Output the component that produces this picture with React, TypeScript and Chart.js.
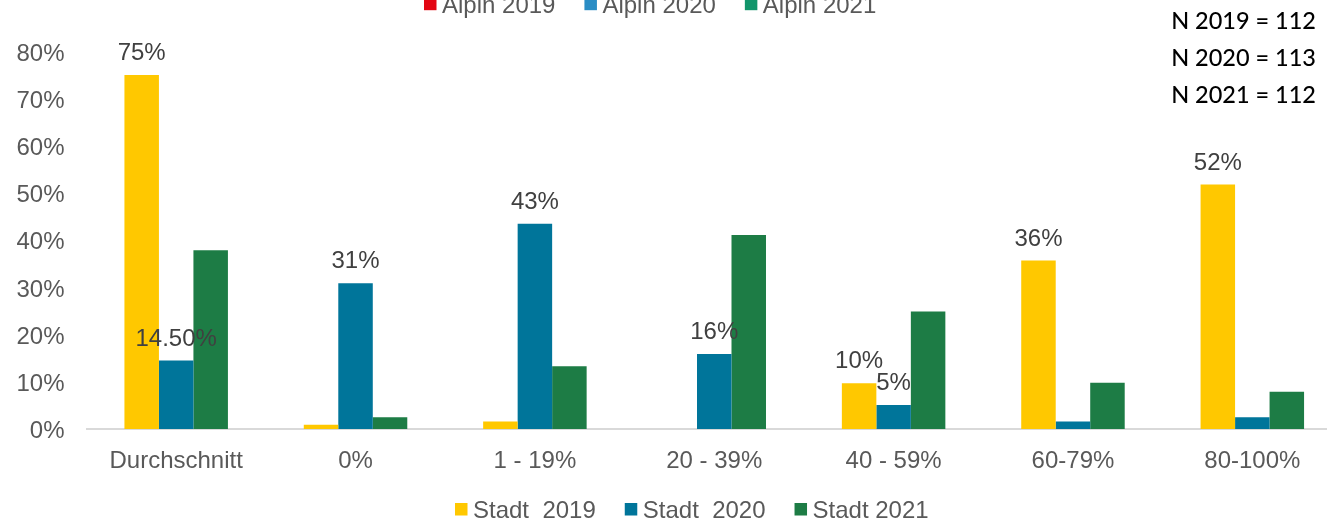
import React, { useEffect, useRef } from "react";
import { Chart, registerables } from "chart.js";

Chart.register(...registerables);

const categories = ["Durchschnitt", "0%", "1 - 19%", "20 - 39%", "40 - 59%", "60-79%", "80-100%"];

const stadt2019 = [75, 0.9, 1.6, 0, 9.7, 35.7, 51.8];
const stadt2020 = [14.5, 30.9, 43.5, 15.9, 5.1, 1.6, 2.5];
const stadt2021 = [37.9, 2.5, 13.3, 41.1, 24.9, 9.8, 7.9];

const labels2019: (string | null)[] = ["75%", null, null, null, "10%", "36%", "52%"];
const labels2020: (string | null)[] = ["14.50%", "31%", "43%", "16%", "5%", null, null];
const labels2021: (string | null)[] = [null, null, null, null, null, null, null];

const seriesNames = ["Stadt  2019", "Stadt  2020", "Stadt 2021"];
const seriesColors = ["#FFC800", "#00759A", "#1D7C45"];

const alpinNames = ["Alpin 2019", "Alpin 2020", "Alpin 2021"];
const alpinColors = ["#E30613", "#2A8DC5", "#12956B"];

const nLines = ["N 2019 = 112", "N 2020 = 113", "N 2021 = 112"];

const yTicks = [0, 10, 20, 30, 40, 50, 60, 70, 80];

const FONT = "'Liberation Sans', Arial, sans-serif";

function drawLegend(ctx: CanvasRenderingContext2D, names: string[], colors: string[], startX: number, baseline: number) {
  ctx.save();
  ctx.font = `24px ${FONT}`;
  ctx.textBaseline = "alphabetic";
  ctx.textAlign = "left";
  let x = startX;
  const box = 12.5;
  names.forEach((name, i) => {
    ctx.fillStyle = colors[i];
    ctx.fillRect(x, baseline - 2.5 - box, box, box);
    x += box + 5.5;
    ctx.fillStyle = "#595959";
    ctx.fillText(name, x, baseline);
    x += ctx.measureText(name).width + 29;
  });
  ctx.restore();
}

const overlay = {
  id: "overlay",
  afterDatasetsDraw(chart: any) {
    const ctx = chart.ctx as CanvasRenderingContext2D;
    const labelSets = [labels2019, labels2020, labels2021];
    ctx.save();
    ctx.font = `24px ${FONT}`;
    ctx.fillStyle = "#404040";
    ctx.textAlign = "center";
    ctx.textBaseline = "alphabetic";
    labelSets.forEach((set, di) => {
      const meta = chart.getDatasetMeta(di);
      set.forEach((txt, j) => {
        if (!txt) return;
        const el = meta.data[j];
        ctx.fillText(txt, el.x, el.y - 15);
      });
    });
    ctx.restore();
  },
  afterDraw(chart: any) {
    const ctx = chart.ctx as CanvasRenderingContext2D;
    drawLegend(
      ctx,
      chart.data.datasets.map((d: any) => d.label),
      chart.data.datasets.map((d: any) => d.backgroundColor),
      455,
      518
    );
    drawLegend(ctx, alpinNames, alpinColors, 424, 12.7);
    ctx.save();
    ctx.font = "500 23.5px Lato, 'Noto Sans', sans-serif";
    ctx.fillStyle = "#000000";
    ctx.textAlign = "right";
    ctx.textBaseline = "alphabetic";
    nLines.forEach((line, i) => {
      ctx.fillText(line, 1316, 29.3 + i * 36.8);
    });
    ctx.restore();
  },
};

export default function App() {
  const ref = useRef<HTMLCanvasElement | null>(null);

  useEffect(() => {
    document.body.style.margin = "0";
    const canvas = ref.current;
    if (!canvas) return;
    const chart = new Chart(canvas, {
      type: "bar",
      data: {
        labels: categories,
        datasets: [
          { label: seriesNames[0], data: stadt2019, backgroundColor: seriesColors[0] },
          { label: seriesNames[1], data: stadt2020, backgroundColor: seriesColors[1] },
          { label: seriesNames[2], data: stadt2021, backgroundColor: seriesColors[2] },
        ],
      },
      options: {
        responsive: false,
        animation: false,
        devicePixelRatio: 1,
        layout: { padding: { top: 51.5, right: 18, left: 0, bottom: 0 } },
        datasets: { bar: { categoryPercentage: 0.577, barPercentage: 1, borderWidth: 0 } },
        plugins: { legend: { display: false }, tooltip: { enabled: false } },
        scales: {
          x: {
            grid: { display: false, drawTicks: false },
            border: { display: true, color: "#D9D9D9", width: 2 },
            ticks: { color: "#595959", font: { family: FONT, size: 24 }, padding: 18, maxRotation: 0, autoSkip: false },
            afterFit: (s: any) => { s.height = 90; },
          },
          y: {
            min: 0,
            max: 80,
            grid: { display: false, drawTicks: false },
            border: { display: false },
            afterBuildTicks: (s: any) => { s.ticks = yTicks.map((v) => ({ value: v })); },
            ticks: {
              color: "#595959",
              font: { family: FONT, size: 24 },
              padding: 22,
              labelOffset: 2.5,
              callback: (v: any) => `${v}%`,
            },
            afterFit: (s: any) => { s.width = 86.5; },
          },
        },
      },
      plugins: [overlay],
    });
    return () => chart.destroy();
  }, []);

  return (
    <div style={{ width: 1327, height: 519, overflow: "hidden", position: "relative" }}>
      <canvas ref={ref} width={1360} height={519} style={{ display: "block", width: 1360, height: 519 }} />
    </div>
  );
}
